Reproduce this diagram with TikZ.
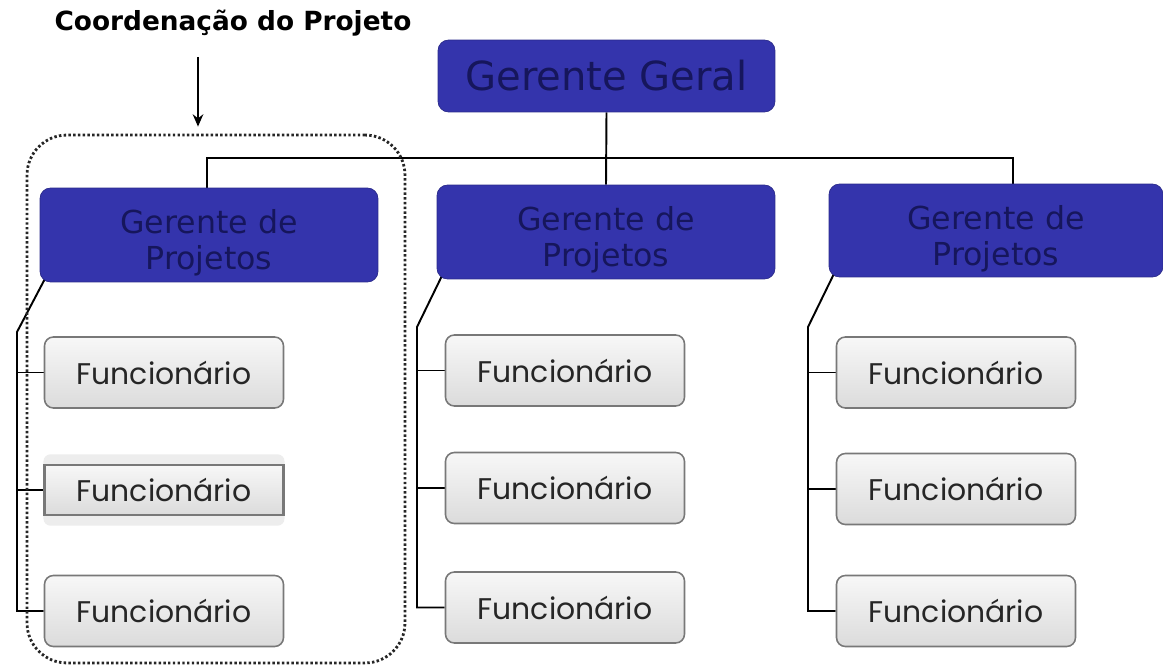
\documentclass[tikz,border=0pt]{standalone}
\usepackage{fontspec}
\setmainfont{DejaVu Sans}
\newfontfamily\funcfont{Poppins}
\usetikzlibrary{arrows.meta,backgrounds}

\definecolor{chefeblue}{RGB}{52,52,172}
\definecolor{chefetext}{RGB}{22,22,92}
\definecolor{boxline}{RGB}{120,120,120}

\tikzset{
    chefe/.style={rectangle, rounded corners=6pt, fill=chefeblue, draw=chefeblue!80!black,
        text=chefetext, align=center, inner sep=0pt},
    chefetexto/.style={text=chefetext, align=center, font=\fontsize{18}{20.5}\selectfont, yshift=-0.16cm},
    func/.style={rectangle, rounded corners=5pt, top color=gray!6, bottom color=gray!28,
        draw=boxline, line width=0.9pt, minimum width=4.78cm, minimum height=1.42cm,
        text=black!85, font=\funcfont\fontsize{17}{19}\selectfont, inner sep=0pt},
    ligacao/.style={line width=1.1pt, black},
}

\begin{document}
\begin{tikzpicture}[x=0.02cm, y=-0.02cm]
    \useasboundingbox (0,0) rectangle (1163,668);

    \coordinate (gg) at (606.5,76);
    \coordinate (pL) at (209,235);
    \coordinate (pM) at (606,232);
    \coordinate (pR) at (996,230.5);

    \coordinate (busL) at (207,158);
    \coordinate (busR) at (1013,158);
    \coordinate (jL) at (17,332);
    \coordinate (jM) at (417,327);
    \coordinate (jR) at (808,327);
    \coordinate (seta) at (198,57);

    \node [font=\bfseries\fontsize{15}{18}\selectfont] (titulo) at (233,23) {Coordenação do Projeto};

    \node [rectangle, rounded corners=0.8cm, draw=black!85, line width=1.6pt,
        dash pattern=on 1.4pt off 1.3pt, minimum width=7.56cm, minimum height=10.56cm] (equipe) at (216,399) {};

    \node [chefe, minimum width=6.74cm, minimum height=1.44cm, font=\fontsize{22.8}{26}\selectfont] (geral) at (gg) {Gerente Geral};
    \node [chefe, minimum width=6.76cm, minimum height=1.88cm,
        label={[chefetexto]center:Gerente de\\Projetos}] (gpL) at (pL) {};
    \node [chefe, minimum width=6.76cm, minimum height=1.88cm,
        label={[chefetexto]center:Gerente de\\Projetos}] (gpM) at (pM) {};
    \node [chefe, minimum width=6.68cm, minimum height=1.86cm,
        label={[chefetexto]center:Gerente de\\Projetos}] (gpR) at (pR) {};

    \node [func] (fL1) at (164,372.5) {Funcionário};
    \node [func, rounded corners=0pt, minimum height=1.0cm, line width=1.2pt] (fL2) at (164,490) {Funcionário};
    \node [func] (fL3) at (164,611) {Funcionário};

    \node [func] (fM1) at (565,370.5) {Funcionário};
    \node [func] (fM2) at (565,488) {Funcionário};
    \node [func] (fM3) at (565,607.5) {Funcionário};

    \node [func] (fR1) at (956,372.5) {Funcionário};
    \node [func] (fR2) at (956,489) {Funcionário};
    \node [func] (fR3) at (956,611) {Funcionário};

    \draw [line width=1.2pt, -{Stealth[length=7pt, width=6pt]}] (seta) -- ([yshift=4pt]equipe.north -| seta);

    \begin{scope}[on background layer]
        \fill [gray!14, rounded corners=4pt] ([yshift=5.5pt]fL2.north west) rectangle ([yshift=-5.5pt]fL2.south east);

        \draw [ligacao] (geral.south) -- (gpM.north);
        \draw [ligacao] (gpL.north -| busL) -- (busL) -- (busR) -- (gpR.north -| busR);

        \draw [ligacao] ([shift={(3pt,2pt)}]gpL.south west) -- (jL) -- (jL |- fL3.west) -- (fL3.west);
        \draw [ligacao] (fL1.west -| jL) -- (fL1.west);
        \draw [ligacao] (fL2.west -| jL) -- (fL2.west);

        \draw [ligacao] ([shift={(3pt,2pt)}]gpM.south west) -- (jM) -- (jM |- fM3.west) -- (fM3.west);
        \draw [ligacao] (fM1.west -| jM) -- (fM1.west);
        \draw [ligacao] (fM2.west -| jM) -- (fM2.west);

        \draw [ligacao] ([shift={(3pt,2pt)}]gpR.south west) -- (jR) -- (jR |- fR3.west) -- (fR3.west);
        \draw [ligacao] (fR1.west -| jR) -- (fR1.west);
        \draw [ligacao] (fR2.west -| jR) -- (fR2.west);
    \end{scope}
\end{tikzpicture}
\end{document}
